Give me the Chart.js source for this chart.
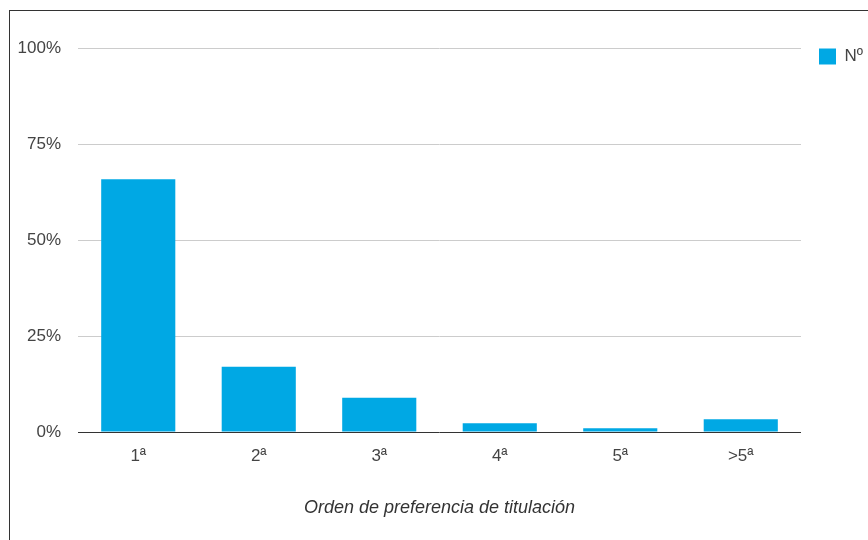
<!DOCTYPE html>
<html lang="es">
<head>
    <meta charset="UTF-8">
    <title>Orden de preferencia de titulación</title>
    <script src="https://cdn.jsdelivr.net/npm/chart.js"></script>
    <style>
        body { margin: 0; background: #fff; }
        #wrap { position: relative; width: 868px; height: 540px; }
        #frame { position: absolute; left: 9px; top: 10px; right: -5px; bottom: -5px; border-left: 1px solid #333; border-top: 1px solid #333; pointer-events: none; }
        canvas { position: absolute; left: 0; top: 0; }
    </style>
</head>
<body>
<div id="wrap">
    <canvas id="chart" width="868" height="540"></canvas>
    <div id="frame"></div>
</div>
<script>
    // data
    const categories = ['1ª', '2ª', '3ª', '4ª', '5ª', '>5ª'];
    const seriesName = 'Nº';
    const values = [65.8, 17.0, 8.9, 2.3, 1.0, 3.3];
    const yTicks = [0, 25, 50, 75, 100];

    const textColor = '#444';
    const fontFamily = '"Liberation Sans", Arial, sans-serif';

    // push the legend a bit right of the plot area
    const legendShift = {
        id: 'legendShift',
        afterLayout(chart) {
            const lg = chart.legend;
            if (!lg) return;
            lg.left += 18; lg.right += 18;
        }
    };

    const ctx = document.getElementById('chart').getContext('2d');
    new Chart(ctx, {
        type: 'bar',
        data: {
            labels: categories,
            datasets: [{
                label: seriesName,
                data: values,
                backgroundColor: '#00a8e4',
                borderWidth: 0,
                categoryPercentage: 1,
                barPercentage: 0.615
            }]
        },
        options: {
            responsive: false,
            animation: false,
            layout: { padding: { top: 48, right: 13, bottom: 0, left: 0 } },
            plugins: {
                tooltip: { enabled: false },
                legend: {
                    position: 'right',
                    align: 'start',
                    labels: {
                        boxWidth: 17,
                        boxHeight: 16,
                        padding: 0,
                        color: textColor,
                        font: { family: fontFamily, size: 17 }
                    }
                }
            },
            scales: {
                x: {
                    grid: { display: false },
                    border: { display: false },
                    ticks: { color: textColor, padding: 6, font: { family: fontFamily, size: 17 } },
                    title: {
                        display: true,
                        text: 'Orden de preferencia de titulación',
                        color: '#333',
                        padding: { top: 0, bottom: 21 },
                        font: { family: fontFamily, size: 18, style: 'italic' }
                    },
                    afterFit(scale) { scale.height = 108; }
                },
                y: {
                    min: 0,
                    max: 100,
                    afterBuildTicks(scale) { scale.ticks = yTicks.map(v => ({ value: v })); },
                    grid: {
                        drawTicks: false,
                        color: c => (c.tick && c.tick.value === 0) ? '#333' : '#ccc'
                    },
                    border: { display: false },
                    ticks: {
                        color: textColor,
                        padding: 17,
                        font: { family: fontFamily, size: 17 },
                        callback: v => v + '%'
                    },
                    afterFit(scale) { scale.width = 78; }
                }
            }
        },
        plugins: [legendShift]
    });
</script>
</body>
</html>
